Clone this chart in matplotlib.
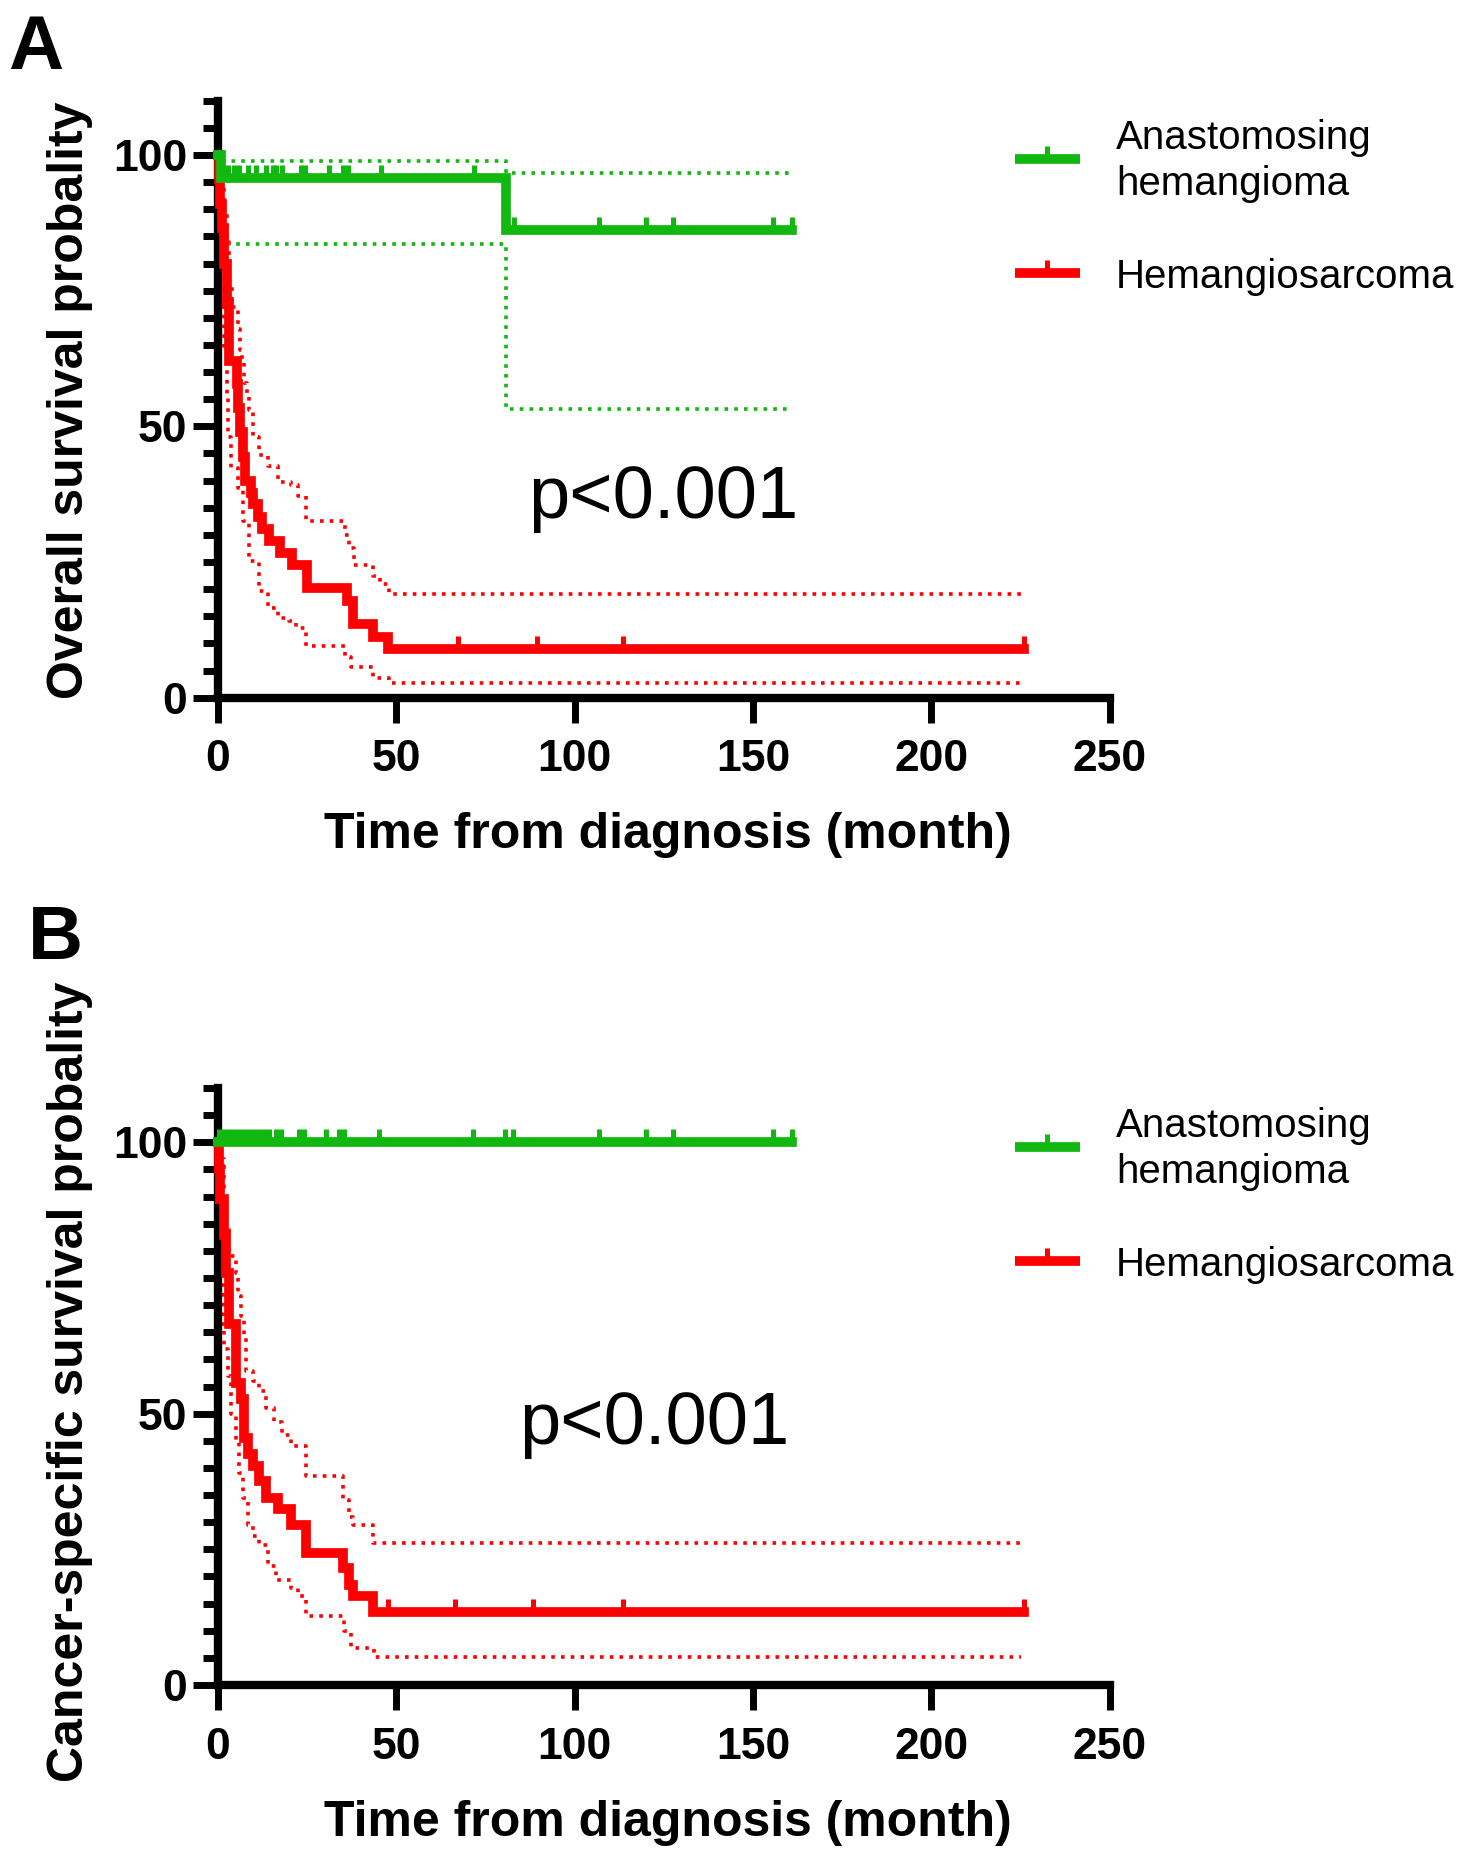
import numpy as np
import matplotlib
matplotlib.use("Agg")
import matplotlib.pyplot as plt
from matplotlib.lines import Line2D
from matplotlib.path import Path
from matplotlib.ticker import MultipleLocator

plt.rcParams['font.family'] = ['Liberation Sans', 'DejaVu Sans']

# ---- data (months, percent) ----
# Panel A: overall survival
os_hs_time = [0, 0.3, 0.7, 1.2, 1.9, 2.6, 3.3, 5.3, 5.8, 6.3, 7.0, 7.6, 9.2, 9.9,
              11.2, 12.5, 14.5, 17.5, 20.7, 24.9, 36.1, 37.9, 43.5, 47.7]
os_hs_surv = [100, 95.5, 91, 86.5, 80, 72.5, 62, 57.8, 53.3, 48.9, 44.4, 40, 37.8, 35.6,
              33.3, 31.1, 28.9, 26.7, 24.4, 20.2, 17.9, 13.5, 11.2, 9.0]
os_hs_up_time = [0, 0.3, 0.7, 1.2, 1.9, 2.6, 3.3, 4.0, 5.6, 6.3, 6.7, 7.5, 8.1, 8.9,
                 9.8, 11.7, 14.0, 16.9, 20.6, 22.5, 24.8, 35.6, 36.9, 38.3, 43.6, 45.4, 48.0]
os_hs_up_surv = [100, 100, 98, 95, 90, 84, 76, 72, 68, 64, 62, 58, 56, 53,
                 48, 44.7, 42.6, 39.8, 39.2, 37.1, 32.5, 30, 27.6, 24.5, 22.5, 20.9, 19.1]
os_hs_lo_time = [0, 0.3, 0.7, 1.2, 1.9, 2.6, 2.9, 3.8, 5.6, 7.0, 8.9, 11.7, 14.0,
                 16.9, 20.1, 21.9, 24.8, 35.6, 37.4, 43.5, 48.1]
os_hs_lo_surv = [100, 86, 80, 73, 64, 56, 48, 42.3, 38.6, 32.5, 25.1, 19.6, 16.6,
                 14.7, 14.1, 12.9, 9.5, 7.5, 5.6, 3.7, 2.8]
os_hs_cens = [67.4, 89.5, 113.6, 226]

os_ah_time = [0, 1.0, 80.7]
os_ah_surv = [100, 95.8, 86.2]
os_ah_up_time = [0, 1.0, 80.7]
os_ah_up_surv = [100, 98.9, 96.6]
os_ah_lo_time = [0, 0.5, 1.0, 80.7]
os_ah_lo_surv = [100, 90, 83.6, 53.2]
os_ah_cens = [1.5, 3, 4.5, 6, 8.5, 10.8, 13.6, 15.4, 16.4, 18, 23.4, 24.6, 31.2,
              35.2, 36.5, 45.7, 71.8, 83, 107, 120, 127.5, 155.6, 161]

# Panel B: cancer-specific survival
css_hs_time = [0, 0.3, 0.6, 1.9, 2.2, 3.3, 5.1, 6.5, 7.5, 8.4, 9.8, 11.7, 13.5,
               16.8, 20.6, 24.8, 35.0, 36.9, 37.9, 43.5]
css_hs_surv = [100, 95, 89.5, 83, 76, 66.5, 55.6, 52.7, 45.5, 42.5, 40.4, 37.5, 34.5,
               32.4, 29.5, 24.4, 21.5, 18.5, 16.4, 13.5]
css_hs_up_time = [0, 0.5, 1.9, 3.3, 5.1, 5.6, 6.5, 7.5, 7.9, 9.8, 11.7, 13.5, 15.9,
                  18.0, 20.6, 24.8, 35.0, 36.9, 37.9, 43.5]
css_hs_up_surv = [100, 97, 85, 79, 76, 71.6, 68, 64.4, 57.8, 56, 54.2, 51, 48.4,
                  46, 44, 38.5, 34, 31, 29.5, 26.2]
css_hs_lo_time = [0, 0.5, 1.4, 1.9, 2.8, 3.7, 5.1, 6.0, 7.0, 8.4, 9.8, 11.7, 14.0,
                  16.4, 20.6, 22.5, 24.8, 35.5, 37.4, 43.9]
css_hs_lo_surv = [100, 78, 66, 62, 57, 50, 45, 39, 34.5, 29.5, 27.5, 25.8, 22,
                  19.3, 17.8, 16.4, 12.7, 10, 6.9, 5.1]
css_hs_cens = [47.7, 66.6, 88.5, 113.5, 226]

css_ah_time = [0]
css_ah_surv = [100]
css_ah_cens = [0.5, 1.9, 3.3, 4.7, 6.1, 7.5, 8.9, 10.3, 11.7, 13.1, 14.5, 16.4, 17.8,
               22.9, 24.3, 30.4, 34.1, 35.5, 45.3, 71.5, 80.4, 82.7, 107, 120, 127.5,
               155.6, 161]

hs_end, hs_ci_end, ah_end = 226, 225, 161

panel_letters = ['A', 'B']
ylabels = ['Overall survival probality', 'Cancer-specific survival probality']
xlabel = 'Time from diagnosis (month)'
legend_names = [['Anastomosing', 'hemangioma'], ['Hemangiosarcoma']]
p_text = 'p<0.001'
p_pos = [(87.0, 33.1), (84.5, 44.4)]

GREEN = '#10B810'
RED = '#FF0000'

W, H = 1468, 1852
fig = plt.figure(figsize=(W / 100, H / 100), dpi=100)

# tick mark pointing up from the curve, used for censored cases
cens_marker = Path([(0, 0), (0, 1)], [Path.MOVETO, Path.LINETO])
MAIN_LW = 7.0


def step_value(times, surv, t):
    i = np.searchsorted(times, t, side='right') - 1
    return np.asarray(surv)[i]


def draw_km(ax, times, surv, end, color, cens=None, dotted=False):
    x = list(times) + [end]
    y = list(surv) + [surv[-1]]
    if dotted:
        ax.step(x, y, where='post', color=color, lw=2.6,
                linestyle=(0, (1, 1.7)), clip_on=False, zorder=2)
    else:
        ax.step(x, y, where='post', color=color, lw=MAIN_LW, clip_on=False,
                solid_joinstyle='miter', zorder=3)
    if cens is not None:
        cy = [step_value(times, surv, t) for t in cens]
        ax.plot(cens, cy, linestyle='none', marker=cens_marker, ms=19,
                mew=3.6, color=color, clip_on=False, zorder=3)


def style_axes(ax):
    ax.set_xlim(0, 250)
    ax.set_ylim(0, 110)
    for s in ['top', 'right']:
        ax.spines[s].set_visible(False)
    for s in ['left', 'bottom']:
        ax.spines[s].set_linewidth(6)
    ax.set_xticks(range(0, 251, 50))
    ax.set_xticklabels([str(v) for v in range(0, 251, 50)],
                       fontsize=32, fontweight='bold')
    ax.set_yticks([0, 50, 100])
    ax.set_yticklabels(['0', '50', '100'], fontsize=32, fontweight='bold')
    ax.yaxis.set_minor_locator(MultipleLocator(5))
    ax.tick_params(axis='x', direction='out', length=18, width=5, pad=12)
    ax.tick_params(axis='y', which='major', direction='out', length=18,
                   width=5, pad=4)
    ax.tick_params(axis='y', which='minor', direction='out', length=11, width=5)
    ax.patch.set_visible(False)


ax_a = fig.add_axes([217.7 / W, 1 - 697.7 / H, 892 / W, 597 / H])
ax_b = fig.add_axes([217.7 / W, 1 - 1685 / H, 892 / W, 597 / H])

# panel A
draw_km(ax_a, os_hs_up_time, os_hs_up_surv, hs_ci_end, RED, dotted=True)
draw_km(ax_a, os_hs_lo_time, os_hs_lo_surv, hs_ci_end, RED, dotted=True)
draw_km(ax_a, os_ah_up_time, os_ah_up_surv, ah_end, GREEN, dotted=True)
draw_km(ax_a, os_ah_lo_time, os_ah_lo_surv, ah_end, GREEN, dotted=True)
draw_km(ax_a, os_hs_time, os_hs_surv, hs_end, RED, cens=os_hs_cens)
draw_km(ax_a, os_ah_time, os_ah_surv, ah_end, GREEN, cens=os_ah_cens)

# panel B
draw_km(ax_b, css_hs_up_time, css_hs_up_surv, hs_ci_end, RED, dotted=True)
draw_km(ax_b, css_hs_lo_time, css_hs_lo_surv, hs_ci_end, RED, dotted=True)
draw_km(ax_b, css_hs_time, css_hs_surv, hs_end, RED, cens=css_hs_cens)
draw_km(ax_b, css_ah_time, css_ah_surv, ah_end, GREEN, cens=css_ah_cens)

for ax, (px_, py_) in zip([ax_a, ax_b], p_pos):
    style_axes(ax)
    ax.text(px_, py_, p_text, fontsize=53.5, ha='left', va='baseline')

# labels placed in figure pixel coordinates
offsets = [0, 988]
letter_pos = [(8, 69), (28, 959)]
ylabel_y = [400, 1382]
for i, off in enumerate(offsets):
    lx, ly = letter_pos[i]
    fig.text(lx / W, 1 - ly / H, panel_letters[i], fontsize=55,
             fontweight='bold', ha='left', va='baseline')
    fig.text(70 / W, 1 - ylabel_y[i] / H, ylabels[i], fontsize=36,
             fontweight='bold', rotation=90, ha='center', va='center')
    fig.text(668 / W, 1 - (848 + off) / H, xlabel, fontsize=36,
             fontweight='bold', ha='center', va='baseline')

    # legend
    for color, ly_line in [(GREEN, 159 + off), (RED, 273 + off)]:
        fig.add_artist(Line2D([1015 / W, 1080 / W], [1 - ly_line / H] * 2,
                              color=color, lw=MAIN_LW, solid_capstyle='butt'))
        fig.add_artist(Line2D([1047 / W], [1 - ly_line / H], color=color,
                              linestyle='none', marker=cens_marker, ms=19, mew=3.6))
    for name, base in zip(legend_names[0], [149 + off, 195 + off]):
        fig.text(1116 / W, 1 - base / H, name, fontsize=29, ha='left', va='baseline')
    fig.text(1116 / W, 1 - (288 + off) / H, legend_names[1][0], fontsize=29,
             ha='left', va='baseline')

fig.savefig('out.png', dpi=100)
